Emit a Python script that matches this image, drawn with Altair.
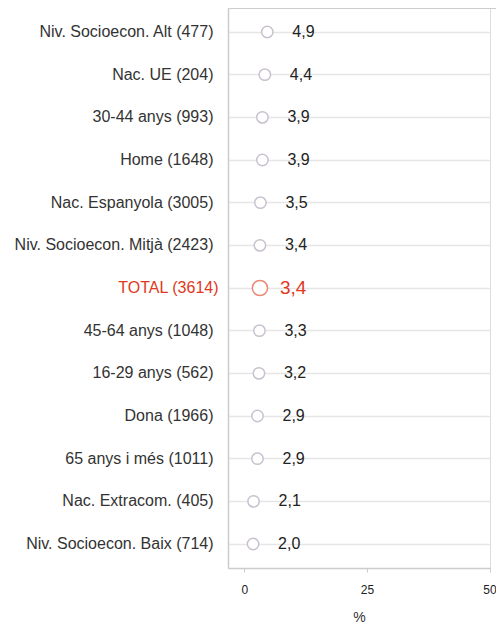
import altair as alt
import pandas as pd

categories = [
    "Niv. Socioecon. Alt (477)", "Nac. UE (204)", "30-44 anys (993)", "Home (1648)",
    "Nac. Espanyola (3005)", "Niv. Socioecon. Mitjà (2423)", "TOTAL (3614)",
    "45-64 anys (1048)", "16-29 anys (562)", "Dona (1966)", "65 anys i més (1011)",
    "Nac. Extracom. (405)", "Niv. Socioecon. Baix (714)",
]
values = [4.9, 4.4, 3.9, 3.9, 3.5, 3.4, 3.4, 3.3, 3.2, 2.9, 2.9, 2.1, 2.0]
total_label = "TOTAL (3614)"

df = pd.DataFrame({"cat": categories, "val": values})
df["is_total"] = df["cat"] == total_label

W, H = 262, 560
FONT = "Liberation Sans"

y_enc = alt.Y(
    "cat:N", sort=categories, title=None,
    scale=alt.Scale(type="band", paddingInner=0, paddingOuter=0.0625),
    axis=alt.Axis(
        ticks=False, labelFontSize=16, labelFont=FONT,
        labelPadding=alt.condition(f"datum.value == '{total_label}'", alt.value(10), alt.value(15)),
        labelColor=alt.condition(f"datum.value == '{total_label}'", alt.value("#e0381c"), alt.value("#333333")),
        domain=True, domainColor="#cccccc", domainWidth=1.5,
        grid=True, gridColor="#e6e6e6", gridWidth=1.5, bandPosition=0.5,
        labelLimit=300,
    ),
)
x_enc = alt.X(
    "val:Q", title="%",
    scale=alt.Scale(domain=[-3.11, 50.3], nice=False, zero=False),
    axis=alt.Axis(
        values=[0, 25, 50], grid=False, domain=True, domainColor="#cccccc", domainWidth=1.5,
        tickColor="#cccccc", tickSize=4, tickOffset=1, labelFontSize=12, labelFont=FONT,
        labelColor="#222222", labelPadding=12, titleFontSize=14, titleFont=FONT,
        titleFontWeight="normal", titleColor="#333333", titlePadding=15,
    ),
)

base = alt.Chart(df).encode(y=y_enc, x=x_enc)

pts = base.transform_filter("!datum.is_total").mark_point(
    shape="circle", filled=False, fill="white", fillOpacity=1, size=130,
    stroke="#c9c1d0", strokeWidth=1.5, opacity=1,
)
pt_total = base.transform_filter("datum.is_total").mark_point(
    shape="circle", filled=False, fill="white", fillOpacity=1, size=230,
    stroke="#ec8a76", strokeWidth=1.5, opacity=1,
)
lab = base.transform_filter("!datum.is_total").transform_calculate(
    lbl="replace(format(datum.val, '.1f'), '.', ',')"
).mark_text(align="left", baseline="middle", dx=25, fontSize=16, font=FONT, color="#222222").encode(text="lbl:N")
lab_total = base.transform_filter("datum.is_total").transform_calculate(
    lbl="replace(format(datum.val, '.1f'), '.', ',')"
).mark_text(align="left", baseline="middle", dx=20, fontSize=19, font=FONT, color="#e0381c").encode(text="lbl:N")

top_rule = alt.Chart(df).mark_rule(color="#cccccc", strokeWidth=1.5).encode(
    x=alt.value(0), x2=alt.value(W + 6), y=alt.value(0)
)

chart = alt.layer(top_rule, pts, pt_total, lab, lab_total).properties(
    width=W, height=H,
    autosize=alt.AutoSizeParams(type="none"),
    padding={"left": 220, "top": 0, "right": 6, "bottom": 64},
).configure_view(stroke=None).configure(background="white")

chart.save("out.html", embed_options={"renderer": "svg", "actions": False})
